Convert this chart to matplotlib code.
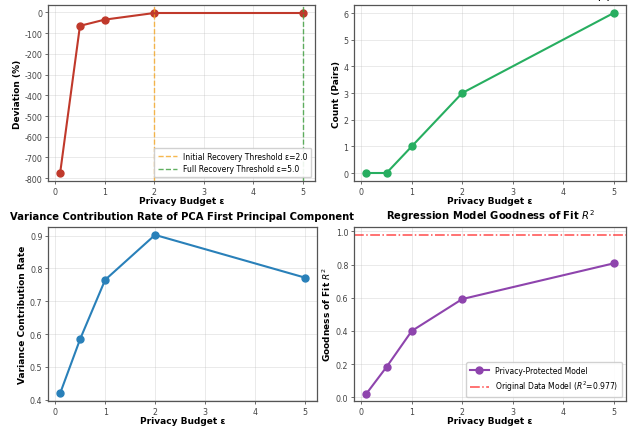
import numpy as np
import matplotlib
matplotlib.use('Agg')
import matplotlib.pyplot as plt

eps = [0.1, 0.5, 1, 2, 5]
deviation = [-775, -65, -35, -3, -3]
pairs = [0, 0, 1, 3, 6]
var_rate = [0.42, 0.585, 0.765, 0.902, 0.772]
r2 = [0.022, 0.183, 0.40, 0.592, 0.807]
r2_orig = 0.977

plt.rcParams['axes.unicode_minus'] = False
plt.rcParams['font.size'] = 5.5

fig = plt.figure(figsize=(6.35, 4.27), dpi=100)
W, H = 635, 427

def box(l, t, r, b):
    return [l / W, 1 - b / H, (r - l) / W, (b - t) / H]

ax1 = fig.add_axes(box(48, 6, 315, 182))
ax2 = fig.add_axes(box(354, 6, 626, 182))
ax3 = fig.add_axes(box(48, 228, 317, 402))
ax4 = fig.add_axes(box(354, 228, 626, 402))

lab = dict(fontsize=6.5, fontweight='bold')
ttl = dict(fontsize=7.2, fontweight='bold', pad=6)

for ax in (ax1, ax2, ax3, ax4):
    ax.grid(True, alpha=0.3, linewidth=0.6)
    for s in ax.spines.values():
        s.set_color('#555555')
        s.set_linewidth(0.9)
    ax.tick_params(labelsize=5.7, length=2.5, width=0.6, pad=1.5,
                   color='#555555', labelcolor='#444444')
    ax.set_xticks([0, 1, 2, 3, 4, 5])
    ax.set_xlabel('Privacy Budget ε', labelpad=0.5, **lab)

# top left
ax1.plot(eps, deviation, '-o', color='#c0392b', linewidth=1.5, markersize=5)
ax1.axvline(2.0, color='#f5a623', linestyle='--', linewidth=1.0, alpha=0.8,
            label='Initial Recovery Threshold ε=2.0')
ax1.axvline(5.0, color='#3a9d3a', linestyle='--', linewidth=1.0, alpha=0.8,
            label='Full Recovery Threshold ε=5.0')
ax1.set_ylabel('Deviation (%)', labelpad=2, **lab)
ax1.set_title('Average Correlation Coefficient Deviation from Original Data', **ttl)
ax1.set_yticks(np.arange(-800, 1, 100))
ax1.legend(loc='lower right', fontsize=5.5, framealpha=0.9, borderpad=0.5, handlelength=2.5)

# top right
ax2.plot(eps, pairs, '-o', color='#27ae60', linewidth=1.5, markersize=5)
ax2.set_ylabel('Count (Pairs)', labelpad=2, **lab)
ax2.set_title('Number of Strongly Correlated Variable Pairs (|r| > 0.7)', **ttl)

# bottom left
ax3.plot(eps, var_rate, '-o', color='#2980b9', linewidth=1.5, markersize=5)
ax3.set_ylabel('Variance Contribution Rate', labelpad=2, **lab)
ax3.set_title('Variance Contribution Rate of PCA First Principal Component', **ttl)

# bottom right
ax4.plot(eps, r2, '-o', color='#8e44ad', linewidth=1.5, markersize=5,
         label='Privacy-Protected Model')
ax4.axhline(r2_orig, color='red', linestyle='-.', linewidth=1.1, alpha=0.7,
            label='Original Data Model ($R^2$=0.977)')
ax4.set_ylim(-0.022, 1.026)
ax4.set_ylabel('Goodness of Fit $R^2$', labelpad=2, **lab)
ax4.set_title('Regression Model Goodness of Fit $R^2$', **ttl)
ax4.legend(loc='lower right', fontsize=5.5, framealpha=0.9, borderpad=0.5, handlelength=2.5)

fig.savefig('out.png', dpi=100)
